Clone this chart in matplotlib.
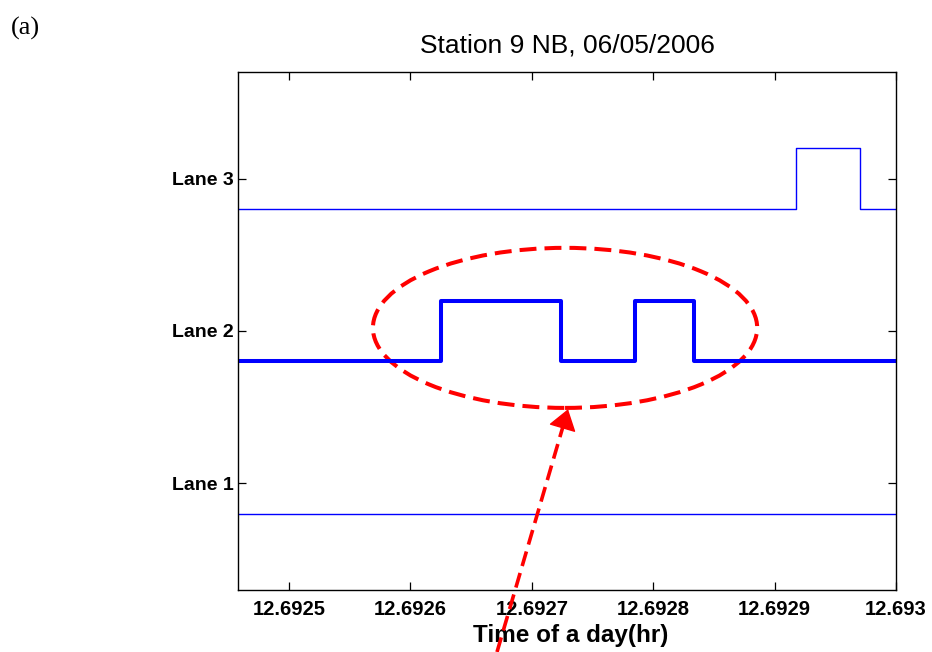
import numpy as np
import matplotlib
matplotlib.use('Agg')
import matplotlib.pyplot as plt
from matplotlib.patches import Ellipse

# detector occupancy steps (time in hr, level per lane)
lane1_t = [12.692458, 12.693]
lane1_y = [0.8, 0.8]

lane2_t = [12.692458, 12.6926255, 12.6926255, 12.6927243, 12.6927243,
           12.6927852, 12.6927852, 12.6928337, 12.6928337, 12.693]
lane2_y = [1.8, 1.8, 2.2, 2.2, 1.8, 1.8, 2.2, 2.2, 1.8, 1.8]

lane3_t = [12.692458, 12.6929177, 12.6929177, 12.6929704, 12.6929704, 12.693]
lane3_y = [2.8, 2.8, 3.2, 3.2, 2.8, 2.8]

xticks = [12.6925, 12.6926, 12.6927, 12.6928, 12.6929, 12.693]
xtick_labels = ['12.6925', '12.6926', '12.6927', '12.6928', '12.6929', '12.693']
yticks = [1, 2, 3]
ytick_labels = ['Lane 1', 'Lane 2', 'Lane 3']

plt.rcParams['font.family'] = ['Liberation Sans', 'DejaVu Sans']

fig = plt.figure(figsize=(9.32, 6.52), dpi=100)
ax = fig.add_axes([0.2554, 0.0951, 0.706, 0.7945])

ax.plot(lane1_t, lane1_y, color='#0000ff', lw=1.0)
ax.plot(lane2_t, lane2_y, color='#0000ff', lw=2.9)
ax.plot(lane3_t, lane3_y, color='#0000ff', lw=1.0)

ax.set_xlim(12.692458, 12.693)
ax.set_ylim(0.3, 3.7)
ax.set_xticks(xticks)
ax.set_xticklabels(xtick_labels, fontsize=14.5, fontweight='bold')
ax.set_yticks(yticks)
ax.set_yticklabels(ytick_labels, fontsize=14, fontweight='bold')
ax.tick_params(direction='in', top=True, right=True, length=6, width=0.9)
ax.tick_params(axis='x', pad=7)
ax.tick_params(axis='y', pad=3)
for s in ax.spines.values():
    s.set_linewidth(1.0)

ax.set_title('Station 9 NB, 06/05/2006', fontsize=19, pad=14)
ax.set_xlabel('Time of a day(hr)', fontsize=17.5, fontweight='bold')
ax.xaxis.set_label_coords(0.505, -0.065)

# highlight ellipse around the lane 2 pulses
ell = Ellipse((0.497, 0.506), 0.584, 0.309, transform=ax.transAxes,
              fill=False, edgecolor='#ff0000', lw=2.9, linestyle=(0, (4.2, 2.0)),
              clip_on=False)
ax.add_patch(ell)

# dashed arrow pointing to the ellipse (drawn over the axis labels)
ax.plot([0.3936, 0.4945], [-0.1197, 0.3185], transform=ax.transAxes, color='#ff0000',
        lw=2.6, linestyle=(0, (4.2, 2.0)), clip_on=False, zorder=5)
ax.annotate('', xy=(0.5015, 0.349), xytext=(0.4938, 0.316),
            xycoords='axes fraction', textcoords='axes fraction',
            arrowprops=dict(arrowstyle='-|>,head_length=1.3,head_width=0.9',
                            color='#ff0000', lw=1, shrinkA=0, shrinkB=0))

fig.text(0.012, 0.947, '(a)', fontsize=19, family='Liberation Serif')

fig.savefig('out.png', dpi=100)
